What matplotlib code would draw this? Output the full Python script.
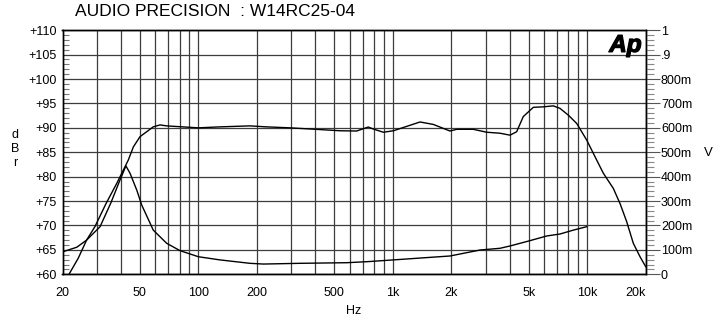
import numpy as np
import matplotlib
matplotlib.use("Agg")
import matplotlib.pyplot as plt
import matplotlib.patheffects as pe
from matplotlib.ticker import FixedLocator, MultipleLocator, NullFormatter


ARCHIVO_SALIDA = "out.png"

TITULO = "AUDIO PRECISION  : W14RC25-04"

# respuesta en frecuencia (eje izquierdo, dBr)
resp_hz = [21.6, 24.1, 26.6, 29.4, 33.5, 38.0, 43.6, 46.3, 50.1, 54.2, 58.6, 63.5,
           68.7, 100, 129, 184, 224, 296, 401, 535, 652, 748, 794, 894, 1007,
           1381, 1616, 1969, 2133, 2596, 3041, 3290, 3557, 4009, 4337, 4690,
           5283, 5945, 6693, 7241, 7998, 8833, 9943, 10967, 12109, 13625,
           14755, 15961, 17270, 18700, 20000]
resp_db = [60.0, 63.3, 67.0, 69.8, 74.5, 78.6, 83.4, 86.1, 88.2, 89.2, 90.2, 90.6,
           90.4, 90.0, 90.2, 90.4, 90.2, 90.0, 89.7, 89.4, 89.35, 90.17, 89.76, 89.1, 89.4,
           91.2, 90.7, 89.35, 89.7, 89.7, 89.1, 89.0, 88.9, 88.5, 89.2, 92.3,
           94.2, 94.3, 94.5, 94.0, 92.6, 90.9, 87.5, 84.1, 80.7, 77.6,
           74.5, 70.8, 66.35, 63.6, 61.56]

# curva de impedancia (eje derecho, V)
imp_hz = [20.2, 23.7, 26.6, 31.2, 35.4, 39.5, 42.4, 44.5, 48.2, 51.1, 58.6, 68.7,
          80.4, 100, 129, 184, 216, 333, 580, 748, 1007, 1969, 2812, 3557,
          4009, 4980, 6195, 7241, 8489, 9943]
imp_v = [0.093, 0.111, 0.14, 0.195, 0.291, 0.386, 0.444, 0.414, 0.345, 0.284, 0.181, 0.127,
         0.097, 0.072, 0.059, 0.045, 0.042, 0.045, 0.0475, 0.052, 0.059, 0.075, 0.0995, 0.1065,
         0.116, 0.136, 0.157, 0.165, 0.181, 0.195]

x_ticks = [20, 50, 100, 200, 500, 1000, 2000, 5000, 10000, 20000]
x_labels = ["20", "50", "100", "200", "500", "1k", "2k", "5k", "10k", "20k"]

db_ticks = [60, 65, 70, 75, 80, 85, 90, 95, 100, 105, 110]
db_labels = ["+60", "+65", "+70", "+75", "+80", "+85", "+90", "+95", "+100", "+105", "+110"]

v_ticks = [0, 0.1, 0.2, 0.3, 0.4, 0.5, 0.6, 0.7, 0.8, 0.9, 1.0]
v_labels = ["0", "100m", "200m", "300m", "400m", "500m", "600m", "700m", "800m", ".9", "1"]


def lineas_grilla():
    lineas = []
    for dec in [10, 100, 1000, 10000]:
        for m in range(1, 10):
            f = dec * m
            if 20 <= f <= 20000:
                lineas.append(f)
    return lineas


def main():
    plt.rcParams["font.family"] = ["Liberation Sans", "DejaVu Sans"]

    fig = plt.figure(figsize=(7.28, 3.19), dpi=100)
    W, H = 728, 319
    x0, x1, y_top, y_bot = 62.5, 645.7, 30.2, 274.3
    ax = fig.add_axes([x0 / W, 1 - y_bot / H, (x1 - x0) / W, (y_bot - y_top) / H])

    color_grilla = "#3c3c3c"

    ax.set_xscale("log")
    ax.set_xlim(20, 20000)
    ax.set_ylim(60, 110)

    ax.xaxis.set_major_locator(FixedLocator(x_ticks))
    ax.set_xticklabels(x_labels, fontsize=9)
    ax.xaxis.set_minor_locator(FixedLocator(lineas_grilla()))
    ax.xaxis.set_minor_formatter(NullFormatter())
    ax.tick_params(axis="x", which="both", length=0, pad=9)
    ax.get_xticklabels()[-1].set_horizontalalignment("right")

    ax.set_yticks(db_ticks)
    ax.set_yticklabels(db_labels, fontsize=9)
    ax.yaxis.set_minor_locator(MultipleLocator(1))
    ax.tick_params(axis="y", which="major", length=0, pad=4)
    ax.tick_params(axis="y", which="minor", direction="in", length=4,
                   color="#777777", width=0.8)

    for f in lineas_grilla():
        ax.axvline(f, color=color_grilla, linewidth=0.9, zorder=1)
    for d in db_ticks:
        ax.axhline(d, color=color_grilla, linewidth=0.9, zorder=1)

    ax.plot(resp_hz, resp_db, color="black", linewidth=1.0, zorder=3)

    ax2 = ax.twinx()
    ax2.set_ylim(0, 1)
    ax2.set_yticks(v_ticks)
    ax2.set_yticklabels(v_labels, fontsize=9)
    ax2.yaxis.set_minor_locator(MultipleLocator(0.02))
    ax2.tick_params(axis="y", which="major", direction="out", length=10,
                    color="#555555", width=0.8, pad=1)
    ax2.tick_params(axis="y", which="minor", direction="out", length=6,
                    color="#888888", width=0.8)
    ax2.plot(imp_hz, imp_v, color="black", linewidth=1.0, zorder=3)

    for a in (ax, ax2):
        for s in a.spines.values():
            s.set_color("black")
            s.set_linewidth(1.0)

    # logo "Ap" grueso en la esquina
    logo = ax2.text(0.993, 0.985, "Ap", transform=ax2.transAxes, ha="right", va="top",
                    fontsize=17.5, fontweight="bold", fontstyle="italic", zorder=5)
    logo.set_path_effects([pe.withStroke(linewidth=0.9, foreground="black")])

    fig.text(75 / W, 1 - 12 / H, TITULO, ha="left", va="center", fontsize=12.5)
    fig.text(15 / W, 1 - 149 / H, "d\nB\nr", ha="center", va="center",
             fontsize=9, linespacing=1.25)
    fig.text(708 / W, 1 - 153 / H, "V", ha="center", va="center", fontsize=9.5)
    fig.text(354 / W, 1 - 311 / H, "Hz", ha="center", va="center", fontsize=9)

    fig.savefig(ARCHIVO_SALIDA, dpi=100)
    plt.close(fig)


if __name__ == "__main__":
    main()
